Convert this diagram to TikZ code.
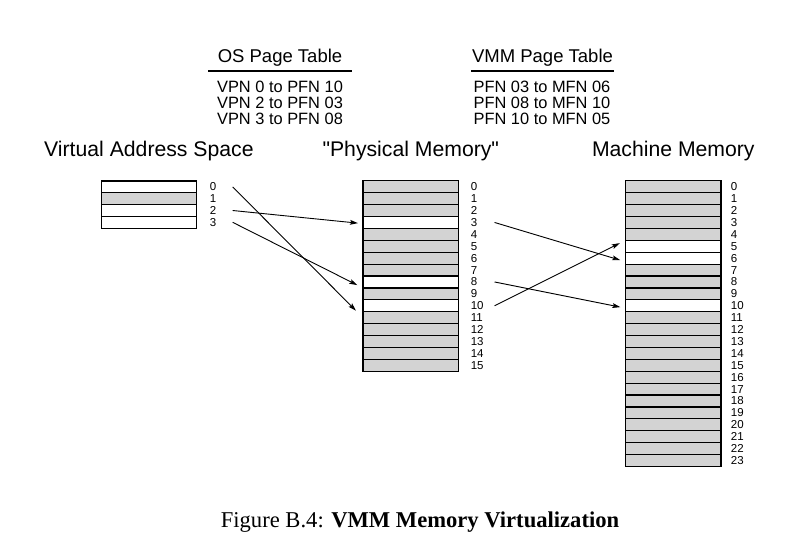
\documentclass[tikz,border=0pt]{standalone}
\usepackage{fontspec}
\setsansfont{Liberation Sans}[Ligatures=TeXOff]
\newfontfamily\capfont{Liberation Serif}
\usetikzlibrary{arrows.meta}
\definecolor{rowgray}{RGB}{211,211,211}
\tikzset{
  cell/.style={draw, line width=1.2pt, minimum width=95.5pt, minimum height=11.9pt, inner sep=0pt, outer sep=0pt},
  usedrow/.style={cell, fill=white},
  freerow/.style={cell, fill=rowgray},
  num/.style={anchor=west, inner sep=0pt, font=\sffamily\fontsize{11.5}{11.5}\selectfont},
  areatitle/.style={anchor=base, inner sep=0pt, font=\sffamily\fontsize{21.2}{21.2}\selectfont},
  tabhead/.style={anchor=base, inner sep=0pt, font=\sffamily\fontsize{18.5}{18.5}\selectfont},
  tabentry/.style={anchor=base, inner sep=0pt, font=\sffamily\fontsize{16.4}{16.4}\selectfont},
  tabrule/.style={line width=1.3pt},
  maparrow/.style={line width=0.9pt, -{Stealth[length=8pt,width=4.8pt,inset=1.5pt]}, shorten >=-7pt},
}
\begin{document}
\begin{tikzpicture}[x=1pt,y=-1pt]
\useasboundingbox (0,0) rectangle (812,546);

% page tables
\node[tabhead] (osh) at (280,62.3) {OS Page Table};
\coordinate (osrl) at (208.3,71);
\coordinate (osrr) at (351.7,71);
\draw[tabrule] (osrl) -- (osrr);
\node[tabentry] (ose1) at (280,92.3) {VPN 0 to PFN 10};
\node[tabentry] (ose2) at (280,108.3) {VPN 2 to PFN 03};
\node[tabentry] (ose3) at (280,124.3) {VPN 3 to PFN 08};

\node[tabhead] (vmh) at (542.5,62.3) {VMM Page Table};
\coordinate (vmrl) at (471,71);
\coordinate (vmrr) at (614,71);
\draw[tabrule] (vmrl) -- (vmrr);
\node[tabentry] (vme1) at (542,92.3) {PFN 03 to MFN 06};
\node[tabentry] (vme2) at (542,108.3) {PFN 08 to MFN 10};
\node[tabentry] (vme3) at (542,124.3) {PFN 10 to MFN 05};

% titles
\node[areatitle] (vt) at (148.9,156.5) {Virtual Address Space};
\node[areatitle] (pt) at (410.8,156.5) {"Physical Memory"};
\node[areatitle] (mt) at (673.3,156.5) {Machine Memory};

% virtual address space
\foreach \i in {0,...,3}{
  \def\st{usedrow}
  \ifnum\i=1 \def\st{freerow}\fi
  \node[\st] (v\i) at (148.9,{181+(\i+0.5)*11.8}) {};
  \node[num] (vl\i) at ([xshift=13pt]v\i.east) {\i};
}

% physical memory
\foreach \i in {0,...,15}{
  \def\st{freerow}
  \ifnum\i=3 \def\st{usedrow}\fi
  \ifnum\i=8 \def\st{usedrow}\fi
  \ifnum\i=10 \def\st{usedrow}\fi
  \node[\st] (p\i) at (410.8,{180.8+(\i+0.5)*11.9}) {};
  \node[num] (pl\i) at ([xshift=12pt]p\i.east) {\i};
}

% machine memory
\foreach \i in {0,...,23}{
  \def\st{freerow}
  \ifnum\i=5 \def\st{usedrow}\fi
  \ifnum\i=6 \def\st{usedrow}\fi
  \ifnum\i=10 \def\st{usedrow}\fi
  \node[\st] (m\i) at (673.3,{180.8+(\i+0.5)*11.9}) {};
  \node[num] (ml\i) at ([xshift=9.7pt]m\i.east) {\i};
}

% mappings
\draw[maparrow] ([xshift=36pt]v0.east) -- ([xshift=-12pt]p10.west);
\draw[maparrow] ([xshift=36pt]v2.east) -- ([xshift=-12pt]p3.west);
\draw[maparrow] ([xshift=36pt]v3.east) -- ([xshift=-12pt]p8.west);
\draw[maparrow] ([xshift=36pt]p3.east) -- ([xshift=-12pt]m6.west);
\draw[maparrow] ([xshift=36pt]p8.east) -- ([xshift=-12pt]m10.west);
\draw[maparrow] ([xshift=36pt]p10.east) -- ([xshift=-12pt]m5.west);

% caption
\node[anchor=base, inner sep=0pt, font=\capfont\fontsize{22.6}{22.6}\selectfont] (cap) at (420,527.7) {Figure B.4: \textbf{VMM Memory Virtualization}};
\end{tikzpicture}
\end{document}
